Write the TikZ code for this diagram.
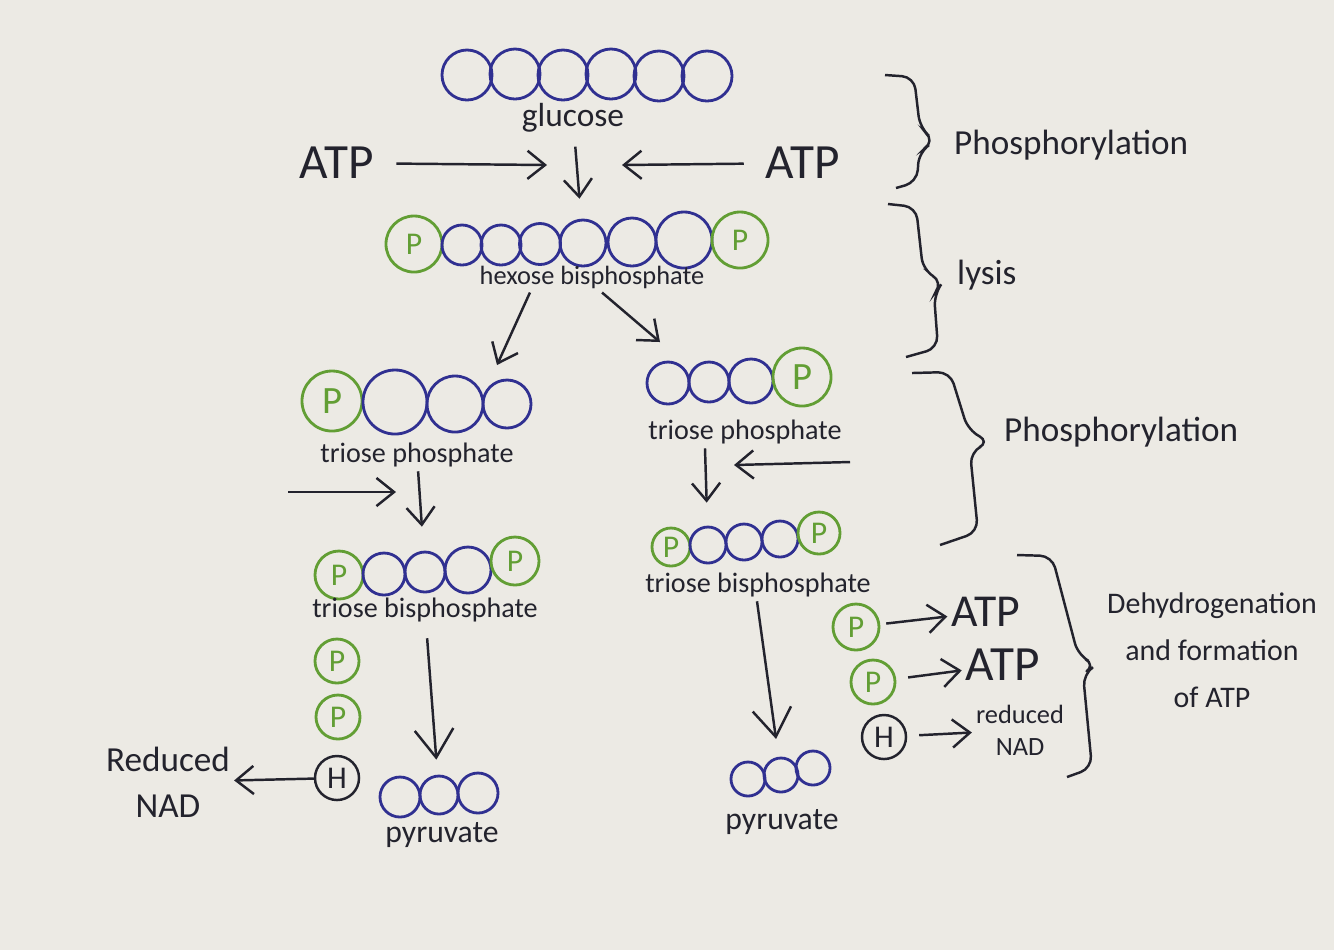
\documentclass[tikz,border=0pt]{standalone}
\usepackage{fontspec}
\setmainfont{Carlito}
\usetikzlibrary{arrows.meta,positioning}
\definecolor{paper}{RGB}{236,234,228}
\definecolor{inkblue}{RGB}{48,48,145}
\definecolor{inkgreen}{RGB}{98,158,52}
\definecolor{ink}{RGB}{35,35,45}

\begin{document}
\begin{tikzpicture}[
    x=0.01cm, y=-0.01cm,
    carbon/.style={circle, draw=inkblue, line width=0.8pt, inner sep=0pt},
    phos/.style={circle, draw=inkgreen, text=inkgreen, line width=0.8pt, inner sep=0pt, font=\fontsize{9}{9}\selectfont},
    hydro/.style={circle, draw=ink, text=ink, line width=0.7pt, inner sep=0pt, font=\fontsize{9}{9}\selectfont},
    lbl/.style={text=ink, inner sep=1pt, font=\fontsize{8}{9}\selectfont},
    big/.style={text=ink, inner sep=1pt, font=\fontsize{14}{14}\selectfont},
    stage/.style={text=ink, inner sep=1pt, anchor=west, font=\fontsize{10}{12}\selectfont},
    flow/.style={draw=ink, line width=0.7pt, -{Straight Barb[length=5pt,width=8pt]}},
    longflow/.style={flow, -{Straight Barb[length=8pt,width=11pt]}},
    bracket/.style={draw=ink, line width=0.7pt, rounded corners=0.12cm}
]
\fill[paper] (0,0) rectangle (1334,950);
\useasboundingbox (0,0) rectangle (1334,950);

\node[carbon, minimum size=0.5cm] (g1) at (467,75) {};
\node[carbon, minimum size=0.5cm] (g2) at (515,74) {};
\node[carbon, minimum size=0.5cm] (g3) at (563,75) {};
\node[carbon, minimum size=0.5cm] (g4) at (611,74) {};
\node[carbon, minimum size=0.5cm] (g5) at (659,76) {};
\node[carbon, minimum size=0.5cm] (g6) at (707,76) {};
\node[lbl, font=\fontsize{9.5}{10}\selectfont] (glclbl) at (573,118) {glucose};

\node[big] (atpL) at (337,163) {ATP};
\node[big] (atpR) at (803,163) {ATP};
\coordinate (joinL) at (547,165);
\coordinate (joinR) at (622,165);

\node[phos, minimum size=0.56cm] (hp1) at (414,244) {P};
\node[carbon, minimum size=0.40cm] (h1) at (462,245) {};
\node[carbon, minimum size=0.40cm] (h2) at (501,245) {};
\node[carbon, minimum size=0.41cm] (h3) at (540,244) {};
\node[carbon, minimum size=0.46cm] (h4) at (583,243) {};
\node[carbon, minimum size=0.48cm] (h5) at (632,242) {};
\node[carbon, minimum size=0.56cm] (h6) at (684,240) {};
\node[phos, minimum size=0.56cm] (hp2) at (740,240) {P};
\node[lbl, font=\fontsize{7.5}{8}\selectfont] (hexlbl) at (592,277) {hexose bisphosphate};
\coordinate (splitL) at (497,365);
\coordinate (splitR) at (660,342);

\node[phos, minimum size=0.60cm, font=\fontsize{11}{11}\selectfont] (tp1) at (332,401) {P};
\node[carbon, minimum size=0.64cm] (t1) at (395,402) {};
\node[carbon, minimum size=0.56cm] (t2) at (455,404) {};
\node[carbon, minimum size=0.48cm] (t3) at (507,404) {};
\node[lbl] (tplblL) at (417,455) {triose phosphate};

\node[carbon, minimum size=0.42cm] (rt1) at (668,383) {};
\node[carbon, minimum size=0.40cm] (rt2) at (709,382) {};
\node[carbon, minimum size=0.44cm] (rt3) at (751,381) {};
\node[phos, minimum size=0.58cm, font=\fontsize{11}{11}\selectfont] (rtp) at (802,377) {P};
\node[lbl] (tplblR) at (745,432) {triose phosphate};

\coordinate (feedL) at (288,492);
\coordinate (feedLend) at (396,492);
\coordinate (feedR) at (850,462);
\coordinate (feedRend) at (734,465);

\node[phos, minimum size=0.48cm] (bp1) at (339,575) {P};
\node[carbon, minimum size=0.42cm] (b1) at (384,574) {};
\node[carbon, minimum size=0.40cm] (b2) at (425,572) {};
\node[carbon, minimum size=0.46cm] (b3) at (468,570) {};
\node[phos, minimum size=0.48cm] (bp2) at (515,561) {P};
\node[lbl] (bislblL) at (425,610) {triose bisphosphate};

\node[phos, minimum size=0.38cm] (rbp1) at (671,547) {P};
\node[carbon, minimum size=0.36cm] (rb1) at (708,545) {};
\node[carbon, minimum size=0.36cm] (rb2) at (744,542) {};
\node[carbon, minimum size=0.36cm] (rb3) at (780,539) {};
\node[phos, minimum size=0.42cm] (rbp2) at (819,533) {P};
\node[lbl] (bislblR) at (758,585) {triose bisphosphate};

\node[phos, minimum size=0.44cm] (lp1) at (337,661) {P};
\node[phos, minimum size=0.44cm] (lp2) at (338,717) {P};
\node[hydro, minimum size=0.44cm] (lh) at (337,778) {H};
\node[lbl, align=center, font=\fontsize{10}{13}\selectfont] (rnadL) at (168,782) {Reduced\\NAD};

\node[carbon, minimum size=0.40cm] (py1) at (400,797) {};
\node[carbon, minimum size=0.38cm] (py2) at (439,795) {};
\node[carbon, minimum size=0.40cm] (py3) at (478,793) {};
\node[lbl, font=\fontsize{9}{10}\selectfont] (pylblL) at (442,835) {pyruvate};

\node[carbon, minimum size=0.34cm] (rpy1) at (748,779) {};
\node[carbon, minimum size=0.34cm] (rpy2) at (781,775) {};
\node[carbon, minimum size=0.34cm] (rpy3) at (813,768) {};
\node[lbl, font=\fontsize{9}{10}\selectfont] (pylblR) at (782,822) {pyruvate};

\node[phos, minimum size=0.46cm] (rp1) at (856,627) {P};
\node[phos, minimum size=0.44cm] (rp2) at (873,682) {P};
\node[hydro, minimum size=0.44cm] (rh) at (884,737) {H};
\node[big, font=\fontsize{13}{13}\selectfont] (atp1) at (986,612) {ATP};
\node[big] (atp2) at (1003,665) {ATP};
\node[lbl, align=center, font=\fontsize{7.5}{9}\selectfont] (rnadR) at (1020,730) {reduced\\NAD};

\coordinate (br1tip) at (935,141);
\coordinate (br2tip) at (943,282);
\coordinate (br3tip) at (990,442);
\coordinate (br4tip) at (1096,665);
\node[stage] (ph1) at (950,145) {Phosphorylation};
\node[stage] (lys) at (953,275) {lysis};
\node[stage] (ph2) at (1000,432) {Phosphorylation};
\node[lbl, align=center, font=\fontsize{8.5}{13.4}\selectfont] (dehyd) at (1212,650) {Dehydrogenation\\and formation\\of ATP};

\draw[flow, shorten <=0.18cm] (atpL) -- (joinL);
\draw[flow, shorten <=0.18cm] (atpR) -- (joinR);
\draw[flow, shorten <=0.1cm, shorten >=0.2cm] (glclbl) -- (h4);
\draw[flow] ([xshift=-0.62cm]hexlbl.south) -- (splitL);
\draw[flow] ([xshift=0.1cm]hexlbl.south) -- (splitR);
\draw[flow] (feedL) -- (feedLend);
\draw[flow, shorten >=0.24cm] (tplblL) -- (b2);
\draw[flow] (feedR) -- (feedRend);
\draw[flow, shorten >=0.23cm] ([xshift=-0.4cm]tplblR.south) -- (rb1);
\draw[flow] (lh) -- (rnadL);
\draw[longflow, shorten <=0.12cm, shorten >=0.15cm] (bislblL) -- (py2);
\draw[longflow, shorten >=0.18cm] ([xshift=-0.01cm]bislblR.south) -- (rpy2);
\draw[flow, shorten <=0.06cm] (rp1) -- (atp1);
\draw[flow, shorten <=0.12cm] (rp2) -- (atp2);
\draw[flow, shorten <=0.12cm] (rh) -- (rnadR);

\draw[bracket] (885,75) -- (914,77) -- (920,128) -- (br1tip) -- (919,152) -- (917,182) -- (896,188);
\draw[bracket] (888,204) -- (916,207) -- (923,270) -- (br2tip) -- (934,294) -- (938,348) -- (906,357);
\draw[bracket] (912,373) -- (950,372) -- (968,430) -- (br3tip) -- (970,452) -- (978,532) -- (940,545);
\draw[bracket] (1017,555) -- (1052,556) -- (1078,655) -- (br4tip) -- (1083,674) -- (1092,768) -- (1067,777);

\end{tikzpicture}
\end{document}
